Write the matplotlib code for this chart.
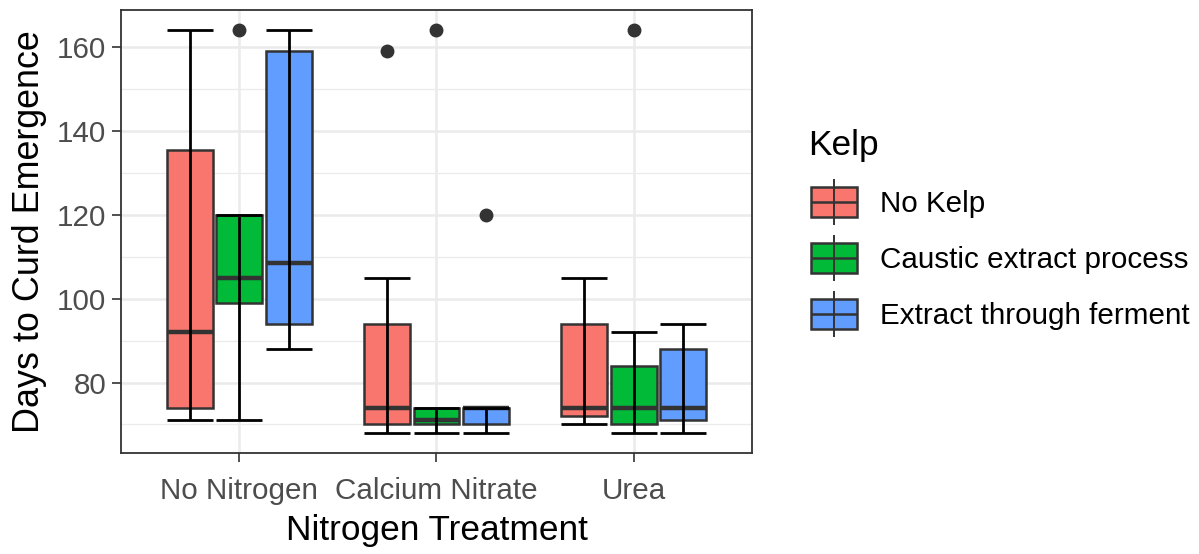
import matplotlib
matplotlib.use("Agg")
import matplotlib.pyplot as plt
from matplotlib.patches import Rectangle

plt.rcParams["font.family"] = ["Liberation Sans", "DejaVu Sans"]

groups = ["No Nitrogen", "Calcium Nitrate", "Urea"]
kelp = ["No Kelp", "Caustic extract process", "Extract through ferment"]
colors = ["#F8766D", "#00BA38", "#619CFF"]

# box statistics per kelp treatment, one value per nitrogen group
whisker_low = [[71, 68, 70], [71, 68, 68], [88, 68, 68]]
q1 = [[74, 70, 72], [99, 70, 70], [94, 70, 71]]
median = [[92, 74, 74], [105, 71, 74], [108.5, 74, 74]]
q3 = [[135.5, 94, 94], [120, 74, 84], [159, 74, 88]]
whisker_high = [[164, 105, 105], [120, 74, 92], [164, 74, 94]]
outliers = [[[], [159], []], [[164], [164], [164]], [[], [120], []]]

W, H = 1199, 554
fig = plt.figure(figsize=(W / 100, H / 100), dpi=100)
L, R, T, B = 121, 752, 10, 453
ax = fig.add_axes([L / W, 1 - B / H, (R - L) / W, (B - T) / H])

dodge = 0.25
box_w = 0.233
edge = "#333333"

for k in range(3):
    pos = [g + 1 + (k - 1) * dodge for g in range(3)]
    stats = []
    for g in range(3):
        stats.append(dict(whislo=whisker_low[k][g], q1=q1[k][g], med=median[k][g],
                          q3=q3[k][g], whishi=whisker_high[k][g], fliers=outliers[k][g]))
    ax.bxp(stats, positions=pos, widths=box_w, patch_artist=True, showcaps=False,
           boxprops=dict(facecolor=colors[k], edgecolor=edge, linewidth=1.8),
           whiskerprops=dict(linestyle="none"),
           medianprops=dict(color=edge, linewidth=3.2, solid_capstyle="butt"),
           flierprops=dict(marker="o", markerfacecolor=edge, markeredgecolor=edge,
                           markersize=9),
           zorder=3)
    # error bar spanning the whiskers, drawn over the boxes
    ax.vlines(pos, whisker_low[k], whisker_high[k], color="black", linewidth=2.0, zorder=4)
    for y in (whisker_low[k], whisker_high[k]):
        ax.hlines(y, [p - box_w / 2 for p in pos], [p + box_w / 2 for p in pos],
                  color="black", linewidth=2.0, zorder=4)

ax.set_xlim(0.4, 3.6)
ax.set_ylim(63.2, 168.8)
ax.set_xticks([1, 2, 3])
ax.set_xticklabels(groups)
ax.set_yticks([80, 100, 120, 140, 160])
ax.set_yticks([70, 90, 110, 130, 150], minor=True)
ax.grid(which="major", color="#EBEBEB", linewidth=1.8, zorder=0)
ax.grid(which="minor", axis="y", color="#EBEBEB", linewidth=0.9, zorder=0)
ax.set_axisbelow(True)
ax.tick_params(which="major", length=6.5, width=1.2, color=edge, labelsize=21.3,
               labelcolor="#4D4D4D")
ax.tick_params(axis="x", pad=11)
ax.tick_params(axis="y", pad=4)
ax.tick_params(which="minor", length=0)
for s in ax.spines.values():
    s.set_color(edge)
    s.set_linewidth(1.3)
ax.set_xlabel("Nitrogen Treatment", fontsize=25.4, labelpad=6.5)
ax.set_ylabel("Days to Curd Emergence", fontsize=25.8, labelpad=7)

# legend drawn in pixel space
lax = fig.add_axes([0, 0, 1, 1], zorder=-1)
lax.set_xlim(0, W)
lax.set_ylim(H, 0)
lax.axis("off")
lax.text(808, 146, "Kelp", fontsize=25.4, va="center", ha="left")
for k, (name, c) in enumerate(zip(kelp, colors)):
    cy = 201.7 + k * 56
    lax.vlines(833.7, cy - 23, cy + 23, color=edge, linewidth=1.4)
    lax.add_patch(Rectangle((810.7, cy - 15), 46, 30, facecolor=c, edgecolor=edge, linewidth=1.8))
    lax.hlines(cy, 810.7, 856.7, color=edge, linewidth=1.8)
    lax.text(880, cy + 2, name, fontsize=21.3, va="center", ha="left")

fig.savefig("out.png", dpi=100)
